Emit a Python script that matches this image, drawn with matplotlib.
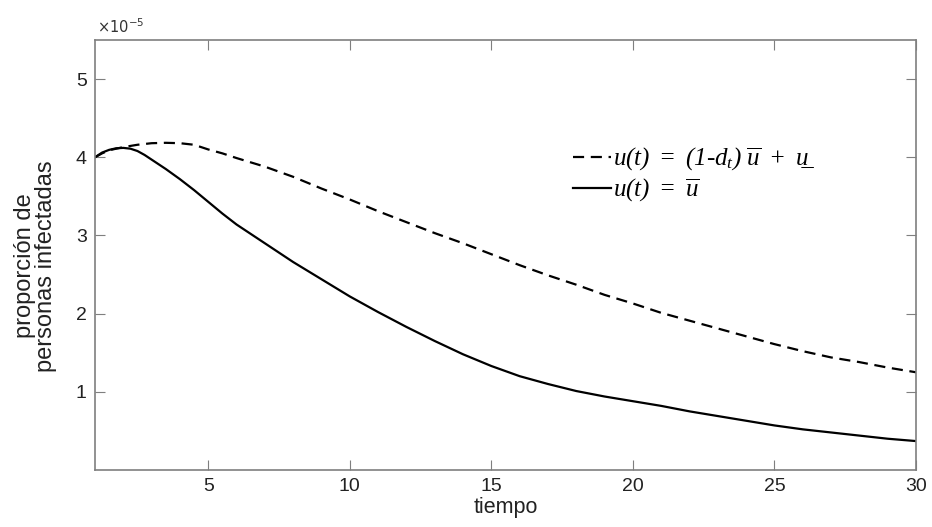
import matplotlib.pyplot as plt
import numpy as np

# values in units of 1e-5
t = np.array([1, 1.25, 1.5, 1.75, 2, 2.25, 2.5, 2.75, 3, 3.5, 4, 4.5, 5, 5.5, 6, 7, 8, 9, 10,
              11, 12, 13, 14, 15, 16, 17, 18, 19, 20, 21, 22, 23, 24, 25, 26, 27, 28, 29, 30])
u_bar = np.array([4.00, 4.06, 4.095, 4.115, 4.12, 4.11, 4.08, 4.03, 3.97, 3.85, 3.72, 3.58, 3.43,
                  3.28, 3.14, 2.90, 2.66, 2.44, 2.22, 2.02, 1.83, 1.65, 1.48, 1.33, 1.20, 1.10,
                  1.01, 0.94, 0.88, 0.82, 0.75, 0.69, 0.63, 0.57, 0.52, 0.48, 0.44, 0.40, 0.37])
u_var = np.array([4.00, 4.05, 4.09, 4.11, 4.13, 4.145, 4.16, 4.17, 4.18, 4.185, 4.18, 4.16, 4.10,
                  4.05, 3.99, 3.88, 3.75, 3.60, 3.46, 3.31, 3.17, 3.03, 2.90, 2.76, 2.62, 2.49,
                  2.37, 2.24, 2.13, 2.01, 1.91, 1.81, 1.71, 1.61, 1.52, 1.44, 1.38, 1.31, 1.25])

xticks = [5, 10, 15, 20, 25, 30]
yticks = [1, 2, 3, 4, 5]

plt.rcParams['mathtext.fontset'] = 'custom'
plt.rcParams['mathtext.it'] = 'Liberation Serif:italic'
plt.rcParams['mathtext.rm'] = 'Liberation Serif:italic'
plt.rcParams['mathtext.cal'] = 'Liberation Serif:italic'

fig = plt.figure(figsize=(9.32, 5.27), dpi=100)
ax = fig.add_axes([95 / 932, 1 - 470 / 527, (916 - 95) / 932, (470 - 40) / 527])

ax.plot(t, u_var, color='black', linestyle=(0, (5, 3)), linewidth=1.6,
        label=r'$u(t)\ =\ (1\text{-}d_t)\ \overline{u}\ +\ $' + 'u\u0332')
ax.plot(t, u_bar, color='black', linestyle='-', linewidth=1.6, label=r'$u(t)\ =\ \overline{u}$')

ax.set_xlim(1, 30)
ax.set_ylim(0, 5.5)
ax.set_xticks(xticks)
ax.set_yticks(yticks)

gray = '#7f7f7f'
for s in ax.spines.values():
    s.set_color(gray)
    s.set_linewidth(1.2)
ax.tick_params(direction='in', length=7, color=gray, top=True, right=True,
               labelsize=14, labelcolor='#222222', pad=6)
for lab in ax.get_xticklabels() + ax.get_yticklabels():
    lab.set_family('Liberation Sans')

ax.set_xlabel('tiempo', fontsize=15.5, family='Liberation Sans', color='#222222', labelpad=1)
ax.set_ylabel('proporción de\npersonas infectadas', fontsize=17, family='Liberation Sans',
              color='#222222', linespacing=0.95)
ax.yaxis.set_label_coords(-0.046, 0.475)

fig.text(97 / 932, 1 - 33 / 527, r'$\times 10^{-5}$', fontsize=10.5, color='#333333',
         va='baseline', math_fontfamily='dejavusans')

leg = ax.legend(loc='upper left', bbox_to_anchor=(0.555, 0.805), frameon=False,
                prop={'family': 'Liberation Serif', 'style': 'italic', 'size': 18},
                handlelength=1.5, handletextpad=0.1, labelspacing=0.15)

fig.savefig('out.png', dpi=100)
